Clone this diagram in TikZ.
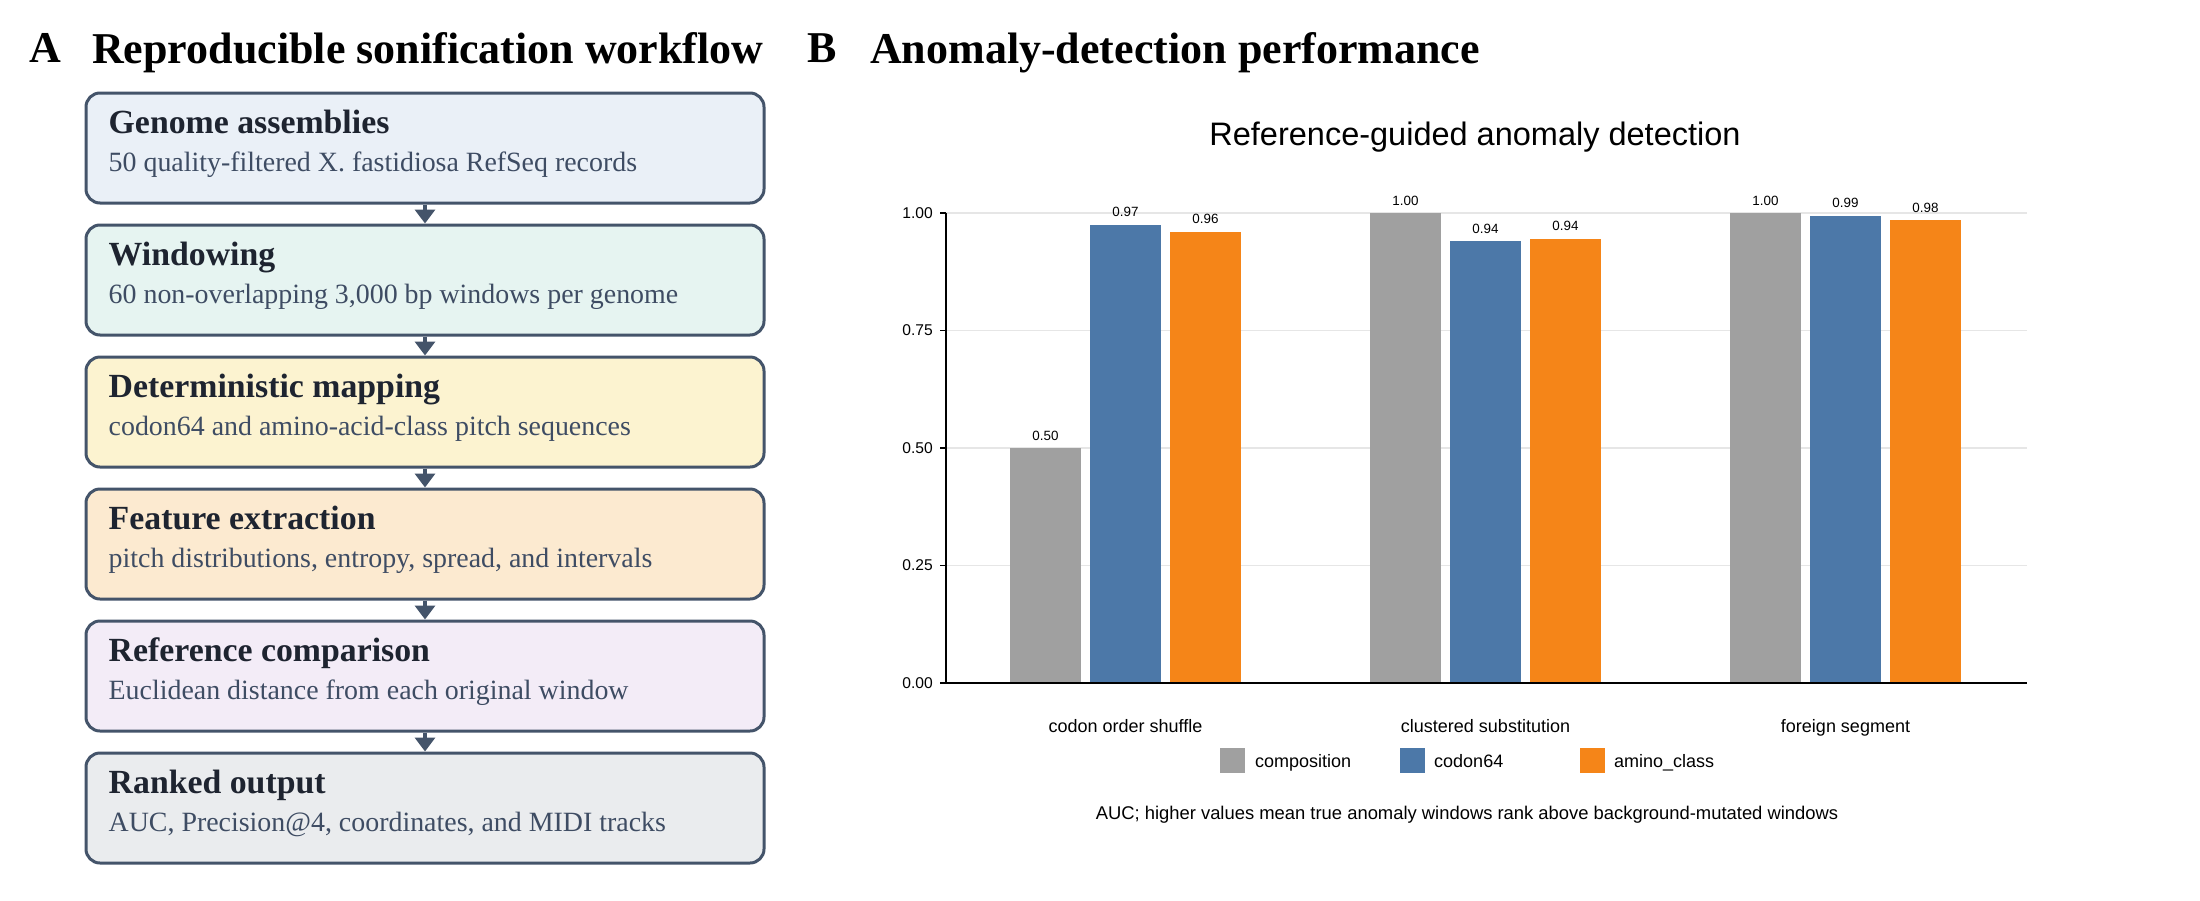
\documentclass[tikz,border=0pt]{standalone}
\usepackage{fontspec}
\setmainfont{Liberation Serif}
\newfontfamily\chartfont{Liberation Sans}
\usetikzlibrary{arrows.meta}
\definecolor{edgec}{HTML}{44546A}
\definecolor{titlec}{HTML}{1E2430}
\definecolor{subc}{HTML}{3E4C63}
\definecolor{fillA}{HTML}{EAF0F7}
\definecolor{fillB}{HTML}{E6F4F1}
\definecolor{fillC}{HTML}{FCF3D0}
\definecolor{fillD}{HTML}{FCEAD0}
\definecolor{fillE}{HTML}{F3ECF7}
\definecolor{fillF}{HTML}{EAECEE}
\definecolor{cgray}{HTML}{A0A0A0}
\definecolor{cblue}{HTML}{4C78A8}
\definecolor{corange}{HTML}{F58518}
\definecolor{gridc}{HTML}{E6E6E6}
\tikzset{
  stagebox/.style={draw=edgec, line width=3pt, rounded corners=14pt, minimum width=678pt, minimum height=110pt, inner sep=0pt},
  stagetitle/.style={anchor=base west, inner sep=0pt, text=titlec, font=\fontsize{33.8}{38}\selectfont\bfseries},
  stagesub/.style={anchor=base west, inner sep=0pt, text=subc, font=\fontsize{27.9}{32}\selectfont},
  flowarrow/.style={draw=edgec, line width=3.5pt, -{Triangle[width=20pt,length=14pt]}},
  paneltitle/.style={anchor=base west, inner sep=0pt, font=\fontsize{44}{50}\selectfont\bfseries},
  vlabel/.style={anchor=base, inner sep=0pt, font=\chartfont\fontsize{13.4}{16}\selectfont},
  ticklabel/.style={anchor=east, inner sep=0pt, font=\chartfont\fontsize{15.6}{18}\selectfont},
  catlabel/.style={anchor=base, inner sep=0pt, font=\chartfont\fontsize{18}{21}\selectfont},
  leglabel/.style={anchor=base west, inner sep=0pt, font=\chartfont\fontsize{18}{21}\selectfont},
}
\begin{document}
\begin{tikzpicture}[x=1pt,y=-1pt]
\useasboundingbox (0,0) rectangle (2200,900);
\fill[white] (0,0) rectangle (2200,900);

% Panel A
\node[paneltitle] (labA) at (29,62) {A};
\node[paneltitle] (titA) at (92,63) {Reproducible sonification workflow};

\node[stagebox, fill=fillA] (b1) at (425,148) {};
\node[stagebox, fill=fillB] (b2) at (425,280) {};
\node[stagebox, fill=fillC] (b3) at (425,412) {};
\node[stagebox, fill=fillD] (b4) at (425,544) {};
\node[stagebox, fill=fillE] (b5) at (425,676) {};
\node[stagebox, fill=fillF] (b6) at (425,808) {};

\node[stagetitle] (t1) at ([xshift=24pt,yshift=-42pt]b1.north west) {Genome assemblies};
\node[stagesub] (s1) at ([xshift=24pt,yshift=-80pt]b1.north west) {50 quality-filtered X. fastidiosa RefSeq records};
\node[stagetitle] (t2) at ([xshift=24pt,yshift=-42pt]b2.north west) {Windowing};
\node[stagesub] (s2) at ([xshift=24pt,yshift=-80pt]b2.north west) {60 non-overlapping 3,000 bp windows per genome};
\node[stagetitle] (t3) at ([xshift=24pt,yshift=-42pt]b3.north west) {Deterministic mapping};
\node[stagesub] (s3) at ([xshift=24pt,yshift=-80pt]b3.north west) {codon64 and amino-acid-class pitch sequences};
\node[stagetitle] (t4) at ([xshift=24pt,yshift=-42pt]b4.north west) {Feature extraction};
\node[stagesub] (s4) at ([xshift=24pt,yshift=-80pt]b4.north west) {pitch distributions, entropy, spread, and intervals};
\node[stagetitle] (t5) at ([xshift=24pt,yshift=-42pt]b5.north west) {Reference comparison};
\node[stagesub] (s5) at ([xshift=24pt,yshift=-80pt]b5.north west) {Euclidean distance from each original window};
\node[stagetitle] (t6) at ([xshift=24pt,yshift=-42pt]b6.north west) {Ranked output};
\node[stagesub] (s6) at ([xshift=24pt,yshift=-80pt]b6.north west) {AUC, Precision@4, coordinates, and MIDI tracks};

\draw[flowarrow] (b1.south) -- (b2.north);
\draw[flowarrow] (b2.south) -- (b3.north);
\draw[flowarrow] (b3.south) -- (b4.north);
\draw[flowarrow] (b4.south) -- (b5.north);
\draw[flowarrow] (b5.south) -- (b6.north);

% Panel B
\node[paneltitle] (labB) at (807,62) {B};
\node[paneltitle] (titB) at (870,63) {Anomaly-detection performance};
\node[anchor=base, inner sep=0pt, font=\chartfont\fontsize{32.5}{38}\selectfont] (ctitle) at (1475,145) {Reference-guided anomaly detection};

% grid
\foreach \v in {0.25,0.5,0.75,1.0} {
  \draw[gridc, line width=1.3pt] (946,{683-470*\v}) -- (2027,{683-470*\v});
}
% bars
\foreach \x/\v/\c/\l in {
  1010/0.50/cgray/0.50, 1090/0.975/cblue/0.97, 1170/0.960/corange/0.96,
  1370/1.00/cgray/1.00, 1450/0.940/cblue/0.94, 1530/0.945/corange/0.94,
  1730/1.00/cgray/1.00, 1810/0.994/cblue/0.99, 1890/0.985/corange/0.98} {
  \fill[\c] (\x,683) rectangle ({\x+71},{683-470*\v});
  \node[vlabel] at ({\x+35.5},{683-470*\v-8}) {\l};
}
% axes
\draw[black, line width=2pt] (946,213) -- (946,683);
\foreach \v/\l in {0/0.00,0.25/0.25,0.5/0.50,0.75/0.75,1.0/1.00} {
  \draw[black, line width=1.2pt] (940,{683-470*\v}) -- (946,{683-470*\v});
  \node[ticklabel] at (933,{683-470*\v}) {\l};
}
\draw[black, line width=2.5pt] (945,683) -- (2027,683);

\node[catlabel] (c1) at (1125.5,732) {codon order shuffle};
\node[catlabel] (c2) at (1485.5,732) {clustered substitution};
\node[catlabel] (c3) at (1845.5,732) {foreign segment};

\fill[cgray] (1220,748) rectangle (1245,773);
\node[leglabel] (l1) at (1255,767) {composition};
\fill[cblue] (1400,748) rectangle (1425,773);
\node[leglabel] (l2) at (1434,767) {codon64};
\fill[corange] (1580,748) rectangle (1605,773);
\node[leglabel] (l3) at (1614,767) {amino\_class};

\node[anchor=base, inner sep=0pt, font=\chartfont\fontsize{18.4}{22}\selectfont] (cap) at (1467,819) {AUC; higher values mean true anomaly windows rank above background-mutated windows};
\end{tikzpicture}
\end{document}
